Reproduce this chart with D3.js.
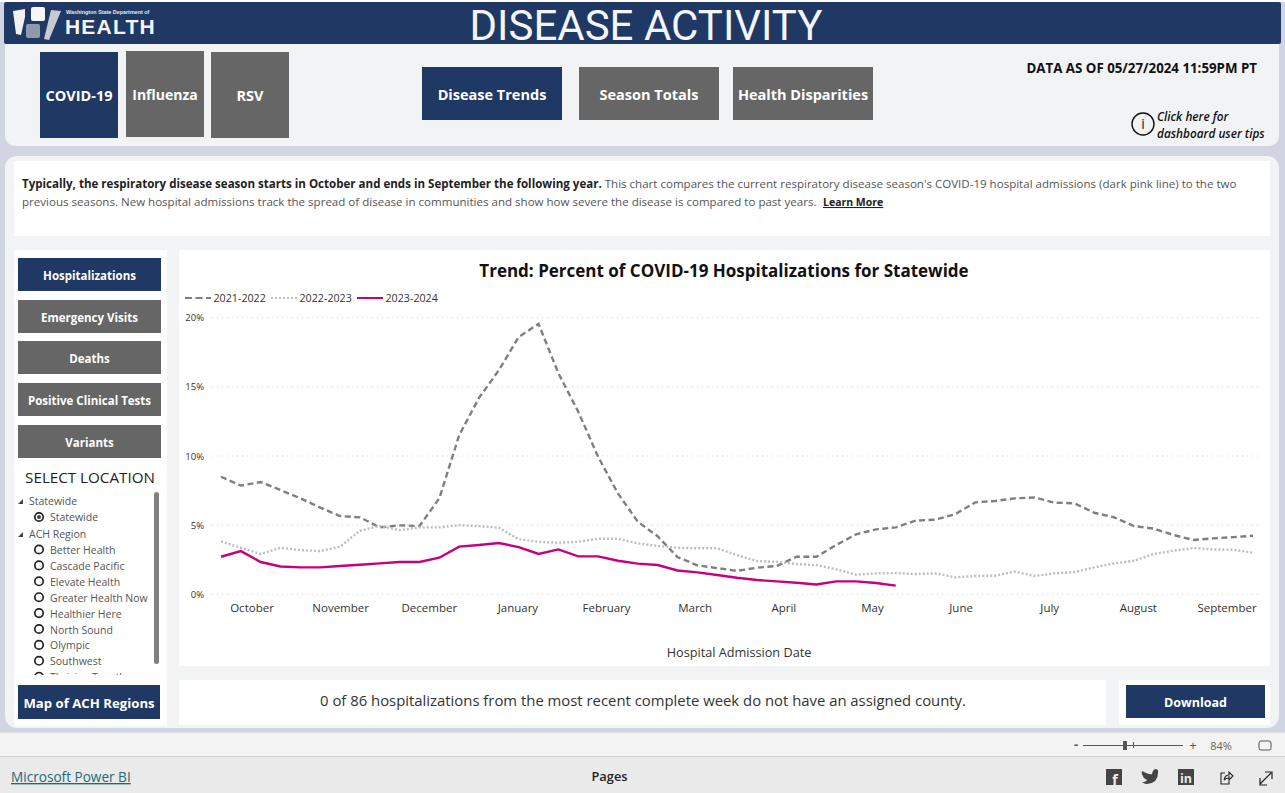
<!DOCTYPE html>
<html>
<head>
<meta charset="utf-8">
<title>Disease Activity</title>
<script src="https://cdn.jsdelivr.net/npm/d3@7"></script>
<style>
  html, body { margin: 0; padding: 0; background: #fff; overflow: hidden; }
  svg { display: block; }
  text { font-family: "Open Sans", "Noto Sans", sans-serif; }
  .axis path, .axis line { display: none; }
</style>
</head>
<body>
<svg id="page" width="1285" height="793"></svg>
<script>
// values, one per week of the season
var season2122 = [8.5, 7.86, 8.12, 7.54, 6.94, 6.27, 5.66, 5.57, 4.84, 4.99, 4.94, 6.94, 11.5, 14.2, 16.2, 18.6, 19.55, 15.98, 13.2, 9.95, 7.3, 5.25, 4.2, 2.7, 2.1, 1.9, 1.7, 1.93, 2.05, 2.72, 2.72, 3.57, 4.34, 4.7, 4.84, 5.33, 5.4, 5.8, 6.65, 6.75, 6.94, 7.0, 6.63, 6.58, 5.9, 5.57, 4.94, 4.75, 4.29, 3.93, 4.05, 4.14, 4.24];
var season2223 = [3.83, 3.37, 2.92, 3.37, 3.2, 3.13, 3.45, 4.6, 4.94, 4.65, 4.84, 4.84, 5.0, 4.94, 4.82, 3.98, 3.8, 3.73, 3.8, 4.02, 4.02, 3.69, 3.5, 3.37, 3.33, 3.33, 2.84, 2.41, 2.36, 2.19, 2.12, 1.81, 1.42, 1.52, 1.54, 1.47, 1.52, 1.23, 1.33, 1.35, 1.64, 1.33, 1.52, 1.61, 1.95, 2.24, 2.43, 2.92, 3.16, 3.35, 3.25, 3.23, 3.01];
var season2324 = [2.72, 3.13, 2.34, 2.02, 1.95, 1.95, 2.05, 2.14, 2.24, 2.34, 2.34, 2.65, 3.45, 3.57, 3.71, 3.42, 2.92, 3.25, 2.75, 2.75, 2.43, 2.22, 2.12, 1.73, 1.59, 1.4, 1.2, 1.04, 0.94, 0.84, 0.72, 0.94, 0.94, 0.82, 0.63];
var months = ["October", "November", "December", "January", "February", "March", "April", "May", "June", "July", "August", "September"];
var yTicks = [0, 5, 10, 15, 20];
var diseaseTabs = ["COVID-19", "Influenza", "RSV"];
var pageTabs = ["Disease Trends", "Season Totals", "Health Disparities"];
var metricButtons = ["Hospitalizations", "Emergency Visits", "Deaths", "Positive Clinical Tests", "Variants"];
var regions = ["Better Health", "Cascade Pacific", "Elevate Health", "Greater Health Now", "Healthier Here", "North Sound", "Olympic", "Southwest", "Thriving Together"];

var navy = "#1f3864", grey = "#666666", lavender = "#d0d5e1", panel = "#f2f3f5";
var svg = d3.select("#page");

function box(x, y, w, h, fill, r) {
  return svg.append("rect").attr("x", x).attr("y", y).attr("width", w).attr("height", h)
    .attr("fill", fill).attr("rx", r || 0);
}
function label(x, y, s, size, opts) {
  opts = opts || {};
  return (opts.parent || svg).append("text").attr("x", x).attr("y", y).text(s)
    .attr("font-size", size)
    .attr("font-weight", opts.weight || 400)
    .attr("fill", opts.fill || "#222")
    .attr("text-anchor", opts.anchor || "start");
}
function button(x, y, w, h, fill, s, size) {
  box(x, y, w, h, fill);
  label(x + w / 2, y + h / 2 + size * 0.36 + 1, s, size, { weight: 700, fill: "#fff", anchor: "middle" });
}

// page frame
box(0, 0, 1285, 793, lavender);
box(0, 0, 1285, 2, "#ffffff");
box(5, 30, 1274, 116, panel, 10);
box(4, 2, 1277, 42, navy, 2);
box(5, 156, 1274, 572, panel, 12);
box(14, 161, 1256, 75, "#fff");
box(14, 250, 153, 476, "#fff");
box(179, 250, 1091, 416, "#fff");
box(179, 680, 927, 45, "#fff");
box(1119, 680, 151, 45, "#fff");

// logo
var logo = svg.append("g");
logo.append("path").attr("d", "M13 11 L25 9 L25 17 L21 35 L16 34 Z").attr("fill", "#f1f1f1");
logo.append("rect").attr("x", 31).attr("y", 7).attr("width", 14).attr("height", 14).attr("rx", 2).attr("fill", "#f7f7f7");
logo.append("rect").attr("x", 26).attr("y", 24).attr("width", 14).attr("height", 14).attr("rx", 2).attr("fill", "#8f99ad");
logo.append("path").attr("d", "M51 10 L61 11 L49 40 L44 39 Z").attr("fill", "#c6cad3");
label(66, 13.5, "Washington State Department of", 5.4, { weight: 700, fill: "#e8eaf0" }).style("font-family", '"Liberation Sans", sans-serif');
label(65, 34, "HEALTH", 21, { weight: 700, fill: "#f5f5f5" }).attr("letter-spacing", 1.2).style("font-family", '"Liberation Sans", sans-serif');
label(646, 40, "DISEASE ACTIVITY", 42, { weight: 400, fill: "#f4f5f8", anchor: "middle" })
  .style("font-family", 'Roboto, sans-serif');

// top buttons
var tabX = [40, 126, 211], tabY = [52, 51, 52], tabSize = [14.5, 14, 14.5];
diseaseTabs.forEach(function (t, i) {
  button(tabX[i], tabY[i], 78, 86, i === 0 ? navy : grey, t, tabSize[i]);
});
var pageX = [422, 579, 733];
pageTabs.forEach(function (t, i) {
  button(pageX[i], 67, 140, 53, i === 0 ? navy : grey, t, 14.5);
});
label(1257, 73, "DATA AS OF 05/27/2024 11:59PM PT", 13.3, { weight: 700, fill: "#111", anchor: "end" });
svg.append("circle").attr("cx", 1143).attr("cy", 124).attr("r", 11).attr("fill", "none").attr("stroke", "#111").attr("stroke-width", 1.4);
label(1143, 129, "i", 14, { fill: "#111", anchor: "middle" });
label(1157, 121, "Click here for", 11.8, { weight: 600, fill: "#111" }).attr("font-style", "italic");
label(1157, 138, "dashboard user tips", 11.8, { weight: 600, fill: "#111" }).attr("font-style", "italic");

// intro text
var line1 = label(22, 188, "", 11.55, { fill: "#555" });
line1.append("tspan").attr("font-weight", 700).attr("fill", "#222").text("Typically, the respiratory disease season starts in October and ends in September the following year.");
line1.append("tspan").text(" This chart compares the current respiratory disease season's COVID-19 hospital admissions (dark pink line) to the two");
label(22, 206, "previous seasons. New hospital admissions track the spread of disease in communities and show how severe the disease is compared to past years.", 11.55, { fill: "#555" });
label(823, 206, "Learn More", 10.5, { weight: 700, fill: "#222" }).attr("text-decoration", "underline");

// left column
var metricY = [258, 300, 341, 383, 425];
metricButtons.forEach(function (t, i) {
  button(18, metricY[i], 143, 33, i === 0 ? navy : grey, t, 11.5);
});
label(90, 483, "SELECT LOCATION", 15.2, { fill: "#222", anchor: "middle" });

svg.append("clipPath").attr("id", "slicerClip").append("rect").attr("x", 14).attr("y", 492).attr("width", 140).attr("height", 183);
var slicer = svg.append("g").attr("clip-path", "url(#slicerClip)");
function arrow(y) {
  slicer.append("path").attr("d", "M18 " + (y + 2) + " L23 " + (y + 2) + " L23 " + (y - 3) + " Z").attr("fill", "#444");
}
function radio(y, on) {
  slicer.append("circle").attr("cx", 39).attr("cy", y).attr("r", 4.2).attr("fill", "none").attr("stroke", "#222").attr("stroke-width", 1.7);
  if (on) slicer.append("circle").attr("cx", 39).attr("cy", y).attr("r", 2).attr("fill", "#444");
}
arrow(502);
label(29, 505, "Statewide", 10.5, { fill: "#555", parent: slicer });
radio(517, true);
label(50, 521, "Statewide", 10.5, { fill: "#555", parent: slicer });
arrow(535);
label(29, 538, "ACH Region", 10.5, { fill: "#555", parent: slicer });
regions.forEach(function (r, i) {
  var ry = 549.5 + i * 15.9;
  radio(ry, false);
  label(50, ry + 4.5, r, 10.5, { fill: "#555", parent: slicer });
});
box(154, 492, 5, 172, "#808080", 2.5);
button(18, 685, 142, 34, navy, "Map of ACH Regions", 13.2);

// chart
var x = d3.scaleLinear().domain([0, 52]).range([221, 1253]);
var y = d3.scaleLinear().domain([0, 20]).range([594.4, 317.6]);
var xMonths = d3.scalePoint().domain(months).range([251.5, 1226.5]);

label(724, 277, "Trend: Percent of COVID-19 Hospitalizations for Statewide", 17, { weight: 700, fill: "#111", anchor: "middle" });

svg.append("g").selectAll("line").data(yTicks).join("line")
  .attr("x1", 212).attr("x2", 1262)
  .attr("y1", function (d) { return y(d); }).attr("y2", function (d) { return y(d); })
  .attr("stroke", "#d4d4d4").attr("stroke-dasharray", "1 4");

var yAxis = svg.append("g").attr("class", "axis").attr("transform", "translate(204,0)")
  .call(d3.axisLeft(y).tickValues(yTicks).tickSize(0).tickPadding(0).tickFormat(function (d) { return d + "%"; }));
yAxis.selectAll("text").attr("font-size", 9.5).attr("fill", "#333").style("font-family", '"Open Sans", sans-serif');

var xAxis = svg.append("g").attr("class", "axis").attr("transform", "translate(0,604)")
  .call(d3.axisBottom(xMonths).tickSize(0).tickPadding(0));
xAxis.selectAll("text").attr("font-size", 11.5).attr("fill", "#333").style("font-family", '"Open Sans", sans-serif');

label(739, 657, "Hospital Admission Date", 12.7, { fill: "#333", anchor: "middle" });

var lineGen = d3.line().x(function (d, i) { return x(i); }).y(function (d) { return y(d); });
var seriesList = [
  { name: "2021-2022", values: season2122, color: "#7f7f7f", dash: "6 3.5", lx: 185 },
  { name: "2022-2023", values: season2223, color: "#bdbdbd", dash: "2 2", lx: 271 },
  { name: "2023-2024", values: season2324, color: "#c6007e", dash: null, lx: 357 }
];
seriesList.forEach(function (s) {
  svg.append("path").datum(s.values).attr("d", lineGen).attr("fill", "none")
    .attr("stroke", s.color).attr("stroke-width", 2.4).attr("stroke-dasharray", s.dash);
  svg.append("line").attr("x1", s.lx).attr("x2", s.lx + 26).attr("y1", 298).attr("y2", 298)
    .attr("stroke", s.color).attr("stroke-width", 2).attr("stroke-dasharray", s.dash ? (s.dash === "2 2" ? "2 2" : "7 3.5") : null);
  label(s.lx + 28.5, 302, s.name, 10.7, { fill: "#333" });
});

// note and download
label(643, 706, "0 of 86 hospitalizations from the most recent complete week do not have an assigned county.", 14.87, { fill: "#333", anchor: "middle" });
button(1126, 685, 139, 33, navy, "Download", 12.5);

// bottom bars
box(0, 733, 1285, 23, "#f3f3f3");
box(0, 732, 1285, 1, "#dddddd");
box(0, 756, 1285, 1, "#cfcfcf");
box(0, 757, 1285, 36, "#eaeaea");

label(1076, 749, "-", 13, { weight: 700, fill: "#555", anchor: "middle" });
box(1083, 745, 100, 1, "#555");
box(1123, 741, 4, 9, "#555");
box(1133, 742, 1, 6, "#555");
label(1193, 750, "+", 13, { fill: "#555", anchor: "middle" });
label(1221, 750, "84%", 11, { fill: "#666", anchor: "middle" });
svg.append("rect").attr("x", 1259).attr("y", 741).attr("width", 12).attr("height", 9).attr("rx", 2)
  .attr("fill", "none").attr("stroke", "#555");

label(11, 782, "Microsoft Power BI", 13.6, { fill: "#1d6b78" }).attr("text-decoration", "underline");
label(609.5, 781, "Pages", 12.8, { weight: 600, fill: "#222", anchor: "middle" });

// footer icons
box(1106, 769, 16, 16, "#444");
label(1115, 785, "f", 15, { weight: 700, fill: "#eaeaea", anchor: "middle" });
svg.append("path").attr("d", "M1142 771 Q1150 775 1152 774 Q1153 769 1156 769 L1158 770 L1158 773 Q1158 783 1147 784 Q1144 784 1142 782 Q1146 782 1147 780 Q1143 778 1143 776 Q1141 774 1142 771 Z").attr("fill", "#444");
box(1178, 769, 16, 16, "#444");
label(1186, 783, "in", 12.5, { weight: 700, fill: "#eaeaea", anchor: "middle" });
svg.append("path").attr("d", "M1229 776 L1229 784 L1221 784 L1221 773 L1225 773 M1224 780 Q1225 775 1229 775 L1229 772 L1233 776 L1229 780 L1229 778 Q1226 778 1224 780").attr("fill", "none").attr("stroke", "#222").attr("stroke-width", 1.1);
svg.append("path").attr("d", "M1260 784 L1271 773 M1265 772 L1272 772 L1272 779 M1260 778 L1260 785 L1267 785").attr("fill", "none").attr("stroke", "#222").attr("stroke-width", 1.2);
</script>
</body>
</html>
